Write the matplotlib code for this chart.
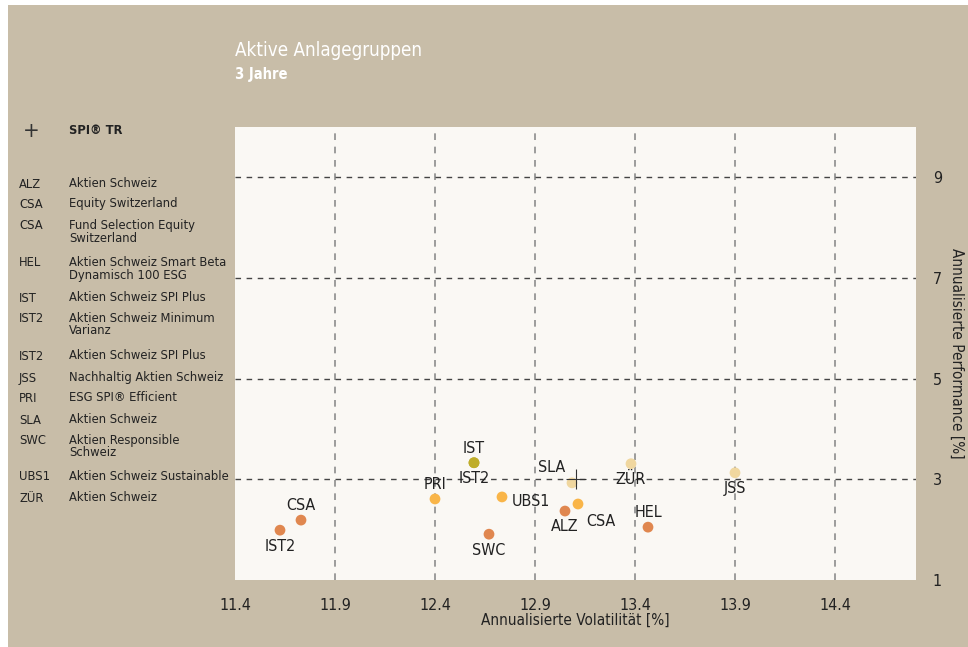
import matplotlib.pyplot as plt
from matplotlib.patches import Rectangle

plt.rcParams['font.family'] = ['DejaVu Sans']
plt.rcParams['font.stretch'] = 'condensed'

# fund points: abbreviation, volatility, performance, colour group
names = ['IST2', 'CSA', 'PRI', 'IST', 'IST2', 'UBS1', 'SWC', 'SLA', 'ALZ', 'CSA', 'ZÜR', 'HEL', 'JSS']
vola = [11.625, 11.73, 12.40, 12.595, 12.595, 12.735, 12.67, 13.085, 13.05, 13.115, 13.38, 13.465, 13.90]
perf = [1.99, 2.19, 2.61, 3.33, 3.33, 2.65, 1.91, 2.93, 2.37, 2.51, 3.31, 2.05, 3.13]
groups = ['o', 'o', 'y', 'g', 'g', 'y', 'o', 'l', 'o', 'y', 'l', 'o', 'l']
label_pos = ['below', 'above', 'above', 'above', 'below', 'right', 'below', 'upleft', 'below', 'lowright', 'below', 'above', 'below']

bench_vola = 13.105
bench_perf = 3.0

legend_abbr = ['ALZ', 'CSA', 'CSA', 'HEL', 'IST', 'IST2', 'IST2', 'JSS', 'PRI', 'SLA', 'SWC', 'UBS1', 'ZÜR']
legend_desc = ['Aktien Schweiz', 'Equity Switzerland', 'Fund Selection Equity\nSwitzerland',
               'Aktien Schweiz Smart Beta\nDynamisch 100 ESG', 'Aktien Schweiz SPI Plus',
               'Aktien Schweiz Minimum\nVarianz', 'Aktien Schweiz SPI Plus', 'Nachhaltig Aktien Schweiz',
               'ESG SPI® Efficient', 'Aktien Schweiz', 'Aktien Responsible\nSchweiz',
               'Aktien Schweiz Sustainable', 'Aktien Schweiz']
legend_y = [184, 204, 226, 263, 298, 319, 356, 378, 398, 420, 441, 477, 498]

xticks = [11.4, 11.9, 12.4, 12.9, 13.4, 13.9, 14.4]
yticks = [1, 3, 5, 7, 9]

colors = {'o': '#E0874F', 'y': '#F9B548', 'l': '#F0D79F', 'g': '#BFAD2A'}
bg = '#C8BDA8'
W, H = 968, 647

fig = plt.figure(figsize=(W / 100, H / 100), dpi=100, facecolor='white')
fig.patches.append(Rectangle((8 / W, 0), 1 - 8 / W, 1 - 5 / H, transform=fig.transFigure,
                             facecolor=bg, edgecolor='none', zorder=-5))

ax = fig.add_axes([235 / W, 1 - 580 / H, (916 - 235) / W, (580 - 127) / H])
ax.set_zorder(2)
ax.set_facecolor('#FAF8F4')
for s in ax.spines.values():
    s.set_visible(False)

ax.set_xlim(11.4, 14.805)
ax.set_ylim(1, 10)
ax.set_xticks(xticks)
ax.set_yticks(yticks)
ax.set_xticklabels([f'{v:.1f}' for v in xticks], fontsize=11.5, color='#222222')
ax.set_yticklabels([str(v) for v in yticks], fontsize=11.5, color='#222222')
ax.yaxis.tick_right()
ax.tick_params(axis='both', length=0)
ax.tick_params(axis='x', pad=13)
ax.tick_params(axis='y', pad=12)

for v in xticks[1:]:
    ax.axvline(v, color='#8C8C8C', lw=1.2, ls=(0, (4, 4)), zorder=1)
for v in yticks[1:]:
    ax.axhline(v, color='#444444', lw=1.0, ls=(0, (4, 4)), zorder=1)

ax.set_xlabel('Annualisierte Volatilität [%]', fontsize=11, color='#222222', labelpad=0)
ax.yaxis.set_label_position('right')
ax.set_ylabel('Annualisierte Performance [%]', fontsize=11, color='#222222', rotation=-90, labelpad=16)

for i in range(len(names)):
    ax.scatter(vola[i], perf[i], s=60, color=colors[groups[i]], edgecolors='none', zorder=3)

offsets = {'below': (0, -6, 'center', 'top'), 'above': (0, 5, 'center', 'bottom'),
           'right': (7, -3, 'left', 'center'), 'upleft': (-5, 6, 'right', 'bottom'),
           'lowright': (6, -7, 'left', 'top')}
for i in range(len(names)):
    dx, dy, ha, va = offsets[label_pos[i]]
    ax.annotate(names[i], (vola[i], perf[i]), xytext=(dx, dy), textcoords='offset points',
                ha=ha, va=va, fontsize=11.5, color='#222222', zorder=4)

ax.plot(bench_vola, bench_perf, marker='+', ms=14, mew=0.8, color='#333333', zorder=5)

fig.text(235 / W, 1 - 50 / H, 'Aktive Anlagegruppen', color='white', fontsize=13.5, va='center')
fig.text(235 / W, 1 - 74 / H, '3 Jahre', color='white', fontsize=10.5, fontweight='bold', va='center')

fig.text(31 / W, 1 - 131 / H, '+', color='#333333', fontsize=16, ha='center', va='center')
fig.text(69 / W, 1 - 131 / H, 'SPI® TR', color='#222222', fontsize=9.3, fontweight='bold', va='center')

for abbr, desc, y in zip(legend_abbr, legend_desc, legend_y):
    fig.text(19 / W, 1 - y / H, abbr, color='#222222', fontsize=9.3, va='center')
    fig.text(69 / W, 1 - (y - 7) / H, desc, color='#222222', fontsize=9.3, va='top', linespacing=0.95)

fig.savefig('out.png', dpi=100, facecolor=fig.get_facecolor())
